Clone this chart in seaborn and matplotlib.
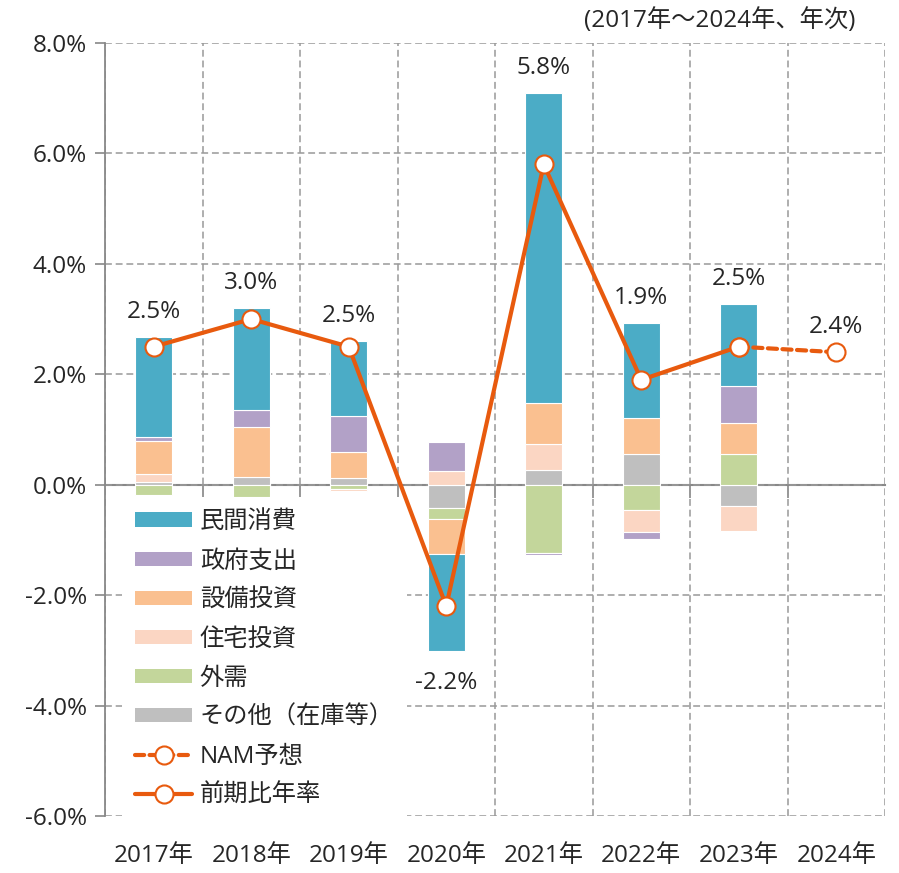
import matplotlib
matplotlib.use('Agg')
import numpy as np
import pandas as pd
import matplotlib.pyplot as plt
import seaborn as sns
from matplotlib.patches import Patch
from matplotlib.lines import Line2D

# --- data (contribution to real GDP growth, %pt) ---
years = ['2017年', '2018年', '2019年', '2020年', '2021年', '2022年', '2023年', '2024年']
consumption = [1.80, 1.85, 1.35, -1.76, 5.62, 1.72, 1.50]
government = [0.08, 0.31, 0.65, 0.53, -0.03, -0.13, 0.66]
equipment = [0.59, 0.90, 0.48, -0.62, 0.74, 0.65, 0.57]
housing = [0.15, 0.00, -0.03, 0.24, 0.47, -0.40, -0.44]
net_exports = [-0.18, -0.23, -0.08, -0.20, -1.24, -0.46, 0.55]
other = [0.05, 0.14, 0.12, -0.43, 0.27, 0.56, -0.39]
gdp_growth = [2.5, 3.0, 2.5, -2.2, 5.8, 1.9, 2.5]
forecast_years = ['2023年', '2024年']
forecast = [2.5, 2.4]
note = '(2017年～2024年、年次)'

# --- style ---
sns.set_theme(style='white')
plt.rcParams['font.family'] = ['Open Sans', 'Noto Sans CJK JP', 'DejaVu Sans']
plt.rcParams['text.color'] = '#262626'
FS = 17.5

line_color = '#E85A0E'
grid_color = '#999999'
series = [  # (label, values, color) in legend order
    ('民間消費', consumption, '#4BACC6'),
    ('政府支出', government, '#B2A1C7'),
    ('設備投資', equipment, '#FAC090'),
    ('住宅投資', housing, '#FBD6C3'),
    ('外需', net_exports, '#C3D69B'),
    ('その他（在庫等）', other, '#BFBFBF'),
]
stack_order = [5, 4, 3, 2, 1, 0]  # drawn outward from zero

fig = plt.figure(figsize=(8.99, 8.73), dpi=100)
ax = fig.add_axes([105 / 899, 1 - 816 / 873, 780 / 899, 773 / 873])

n = len(gdp_growth)
pos_cum = np.zeros(n)
neg_cum = np.zeros(n)
for i in stack_order:
    label, vals, color = series[i]
    vals = np.array(vals, dtype=float)
    bottoms = np.where(vals >= 0, pos_cum, neg_cum)
    df = pd.DataFrame({'year': years[:n], 'value': vals, 'bottom': bottoms})
    df = df[df['value'] != 0]
    sns.barplot(data=df, x='year', y='value', order=years, color=color,
                saturation=1, width=0.38, bottom=df['bottom'].to_numpy(),
                edgecolor='white', linewidth=0.8, errorbar=None, ax=ax, zorder=2)
    pos_cum += np.where(vals >= 0, vals, 0)
    neg_cum += np.where(vals < 0, vals, 0)

# growth line + forecast
x_act = np.arange(n)
sns.lineplot(x=[years.index(y) for y in forecast_years], y=forecast, ax=ax,
             color=line_color, lw=3, linestyle=(0, (2.2, 1.3)), dash_capstyle='round',
             marker='o', markersize=13, markerfacecolor='white',
             markeredgecolor=line_color, markeredgewidth=1.5, zorder=4)
sns.lineplot(x=x_act, y=gdp_growth, ax=ax, color=line_color, lw=3,
             marker='o', markersize=13, markerfacecolor='white',
             markeredgecolor=line_color, markeredgewidth=1.5, zorder=5)

# value labels
all_x = list(x_act) + [years.index(forecast_years[-1])]
all_v = list(gdp_growth) + [forecast[-1]]
for xi, v in zip(all_x, all_v):
    if v >= 0:
        top = max(pos_cum[xi], v) if xi < n else v
        ax.annotate(f'{v:.1f}%', (xi, top), xytext=(0, 18), textcoords='offset points',
                    ha='center', va='center', fontsize=FS, zorder=6)
    else:
        bot = min(neg_cum[xi], v)
        ax.annotate(f'{v:.1f}%', (xi, bot), xytext=(0, -23), textcoords='offset points',
                    ha='center', va='center', fontsize=FS, zorder=6)

# axes
ax.set_xlim(-0.5, len(years) - 0.5)
ax.set_ylim(-6, 8)
ax.set_yticks(np.arange(-6, 8.1, 2))
ax.set_yticklabels([f'{t:.1f}%' for t in np.arange(-6, 8.1, 2)])
ax.set_xticks(range(len(years)))
ax.set_xticklabels(years)
ax.set_xticks(np.arange(-0.5, len(years)), minor=True)
ax.set_xlabel('')
ax.set_ylabel('')
ax.tick_params(axis='x', which='both', length=0, labelsize=FS, pad=20, colors='#262626')
ax.tick_params(axis='y', length=7, width=1.2, color='#888888', labelsize=FS,
               pad=6, labelcolor='#262626', left=True)
for s in ['top', 'right', 'bottom']:
    ax.spines[s].set_visible(False)
ax.spines['left'].set_color('#888888')
ax.spines['left'].set_linewidth(1.3)

ax.set_axisbelow(True)
ax.grid(axis='y', which='major', color=grid_color, lw=1.1, linestyle=(0, (4.5, 2.5)))
ax.grid(axis='x', which='minor', color=grid_color, lw=1.1, linestyle=(0, (4.5, 2.5)))

# zero axis with ticks at category boundaries
zax = ax.secondary_xaxis(0, transform=ax.transData)
zax.set_xticks(np.arange(0.5, len(years) - 1))
zax.tick_params(length=9, width=1.2, color='#888888', labelbottom=False)
zax.spines['bottom'].set_color('#888888')
zax.spines['bottom'].set_linewidth(1.5)

# legend
handles = [Patch(facecolor=c, edgecolor='none') for _, _, c in series]
labels = [s[0] for s in series]
handles.append(Line2D([], [], color=line_color, lw=3, linestyle=(0, (2.2, 1.3)),
                      dash_capstyle='round', marker='o', markersize=13,
                      markerfacecolor='white', markeredgecolor=line_color, markeredgewidth=1.5))
labels.append('NAM予想')
handles.append(Line2D([], [], color=line_color, lw=3, marker='o', markersize=13,
                      markerfacecolor='white', markeredgecolor=line_color, markeredgewidth=1.5))
labels.append('前期比年率')
leg = ax.legend(handles, labels, loc='upper left', bbox_to_anchor=(122 / 899, 1 - 497 / 873),
                bbox_transform=fig.transFigure, borderaxespad=0, fontsize=FS,
                frameon=True, facecolor='white', edgecolor='none', framealpha=1,
                fancybox=False, handlelength=2.35, handleheight=0.55, handletextpad=0.3,
                labelspacing=0.62, borderpad=0.55)
leg.set_zorder(3)

fig.text(855 / 899, 1 - 21 / 873, note, ha='right', va='center', fontsize=FS)

fig.savefig('out.png', dpi=100)
